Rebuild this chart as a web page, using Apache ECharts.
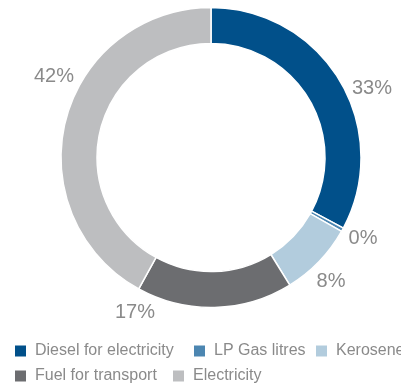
<!DOCTYPE html>
<html>
<head>
<meta charset="utf-8">
<script src="https://cdn.jsdelivr.net/npm/echarts@6/dist/echarts.min.js"></script>
<style>
  html, body { margin: 0; padding: 0; background: #fff; }
  #chart { width: 401px; height: 385px; }
</style>
</head>
<body>
<div id="chart"></div>
<script>
// Energy use by source, share of total (%)
const categories = ['Diesel for electricity', 'LP Gas litres', 'Kerosene', 'Fuel for transport', 'Electricity'];
const shares = [32.8, 0.4, 8.0, 16.8, 42.0];
const colors = ['#01508A', '#4C86B1', '#B2CCDD', '#6C6D70', '#BDBEC0'];

// Where each percentage label sits around the ring
const labelSpots = [[372, 88], [363, 238], [331, 281], [135, 312], [54, 76]];
// Legend rows: [left, top] for each entry
const legendSpots = [[15, 343], [194, 343], [316, 343], [15, 368], [173, 368]];

const chart = echarts.init(document.getElementById('chart'));

const legends = categories.map((name, i) => ({
  data: [name],
  left: legendSpots[i][0],
  top: legendSpots[i][1],
  icon: 'rect',
  itemWidth: 11,
  itemHeight: 11,
  itemStyle: { borderWidth: 0 },
  padding: 0,
  selectedMode: false,
  textStyle: {
    fontFamily: 'Liberation Sans',
    fontSize: 16,
    color: '#8a8a8a',
    padding: [0, 0, 0, 4]
  }
}));

chart.setOption({
  animation: false,
  color: colors,
  legend: legends,
  series: [{
    type: 'pie',
    center: [211, 157.5],
    radius: [114, 150],
    startAngle: 90,
    clockwise: true,
    avoidLabelOverlap: false,
    itemStyle: { borderColor: '#fff', borderWidth: 1.5 },
    label: {
      show: true,
      position: 'outside',
      formatter: p => Math.round(p.value) + '%',
      fontFamily: 'Liberation Sans',
      fontSize: 20,
      color: '#8a8a8a'
    },
    labelLine: { show: false },
    labelLayout: p => ({
      x: labelSpots[p.dataIndex][0],
      y: labelSpots[p.dataIndex][1],
      align: 'center',
      verticalAlign: 'middle'
    }),
    emphasis: { disabled: true },
    data: categories.map((name, i) => ({ name, value: shares[i] }))
  }]
});
</script>
</body>
</html>
